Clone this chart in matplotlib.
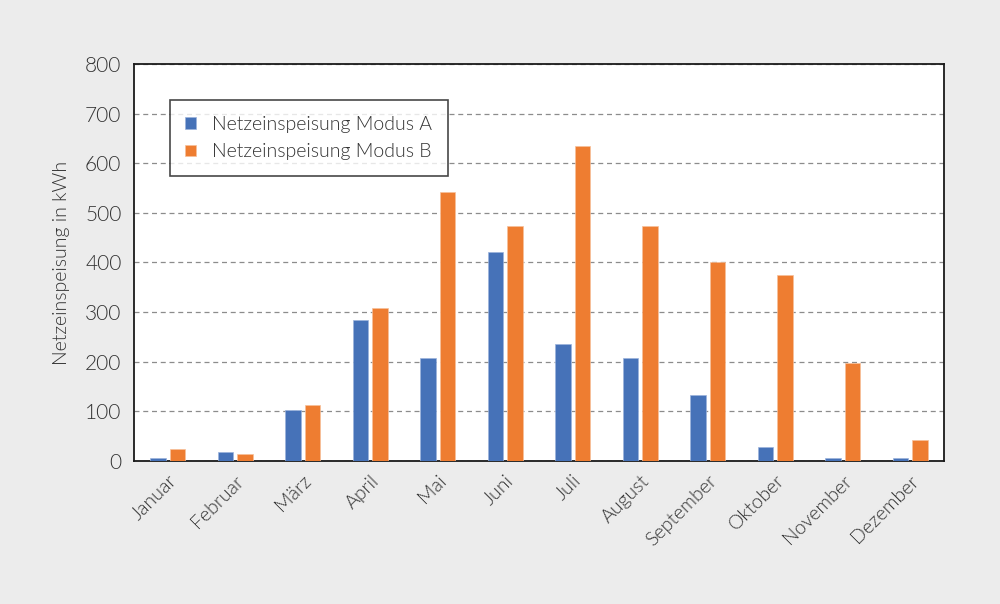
import matplotlib.pyplot as plt
import numpy as np

plt.rcParams['font.family'] = ['Lato', 'DejaVu Sans']
plt.rcParams['font.weight'] = 300
plt.rcParams['axes.labelweight'] = 300

months = ["Januar", "Februar", "März", "April", "Mai", "Juni", "Juli",
          "August", "September", "Oktober", "November", "Dezember"]
modus_a = [5, 18, 103, 284, 208, 421, 236, 208, 133, 28, 5, 5]
modus_b = [24, 14, 113, 308, 542, 474, 635, 474, 401, 375, 197, 42]

bg = "#ececec"
blue = "#4672b8"
orange = "#ee7d31"
txt = "#333333"

fig = plt.figure(figsize=(10, 6.04), dpi=100, facecolor=bg)
ax = fig.add_axes([0.134, 0.237, 0.81, 0.657])

x = np.arange(len(months))
w = 0.23
ax.bar(x - 0.145, modus_a, w, color=blue, edgecolor="#9bb3dc", linewidth=0.5,
       label="Netzeinspeisung Modus A", zorder=3)
ax.bar(x + 0.145, modus_b, w, color=orange, edgecolor="#f7c09a", linewidth=0.5,
       label="Netzeinspeisung Modus B", zorder=3)

ax.set_xlim(-0.5, 11.5)
ax.set_ylim(0, 800)
ax.set_yticks(range(0, 801, 100))
ax.yaxis.grid(True, linestyle=(0, (4, 3)), color="#8c8c8c", linewidth=0.9, zorder=0)
ax.set_axisbelow(True)

for s in ax.spines.values():
    s.set_color("#1a1a1a")
    s.set_linewidth(1.3)

ax.tick_params(axis="y", length=0, pad=9, labelsize=15, labelcolor=txt)
ax.tick_params(axis="x", length=0, pad=8, labelsize=14, labelcolor=txt)
ax.set_xticks(x)
ax.set_xticklabels(months, rotation=45, ha="right", rotation_mode="anchor")
ax.set_ylabel("Netzeinspeisung in kWh", fontsize=14, color=txt, labelpad=11)

leg = ax.legend(loc="upper left", bbox_to_anchor=(0.044, 0.909), fontsize=14,
                frameon=True, fancybox=False, handlelength=0.55, handleheight=0.55,
                handletextpad=0.85, borderpad=0.8, labelspacing=0.55,
                borderaxespad=0)
leg.get_frame().set_edgecolor("#1a1a1a")
leg.get_frame().set_linewidth(1.2)
for t in leg.get_texts():
    t.set_color(txt)

fig.savefig("out.png", dpi=100, facecolor=bg)
